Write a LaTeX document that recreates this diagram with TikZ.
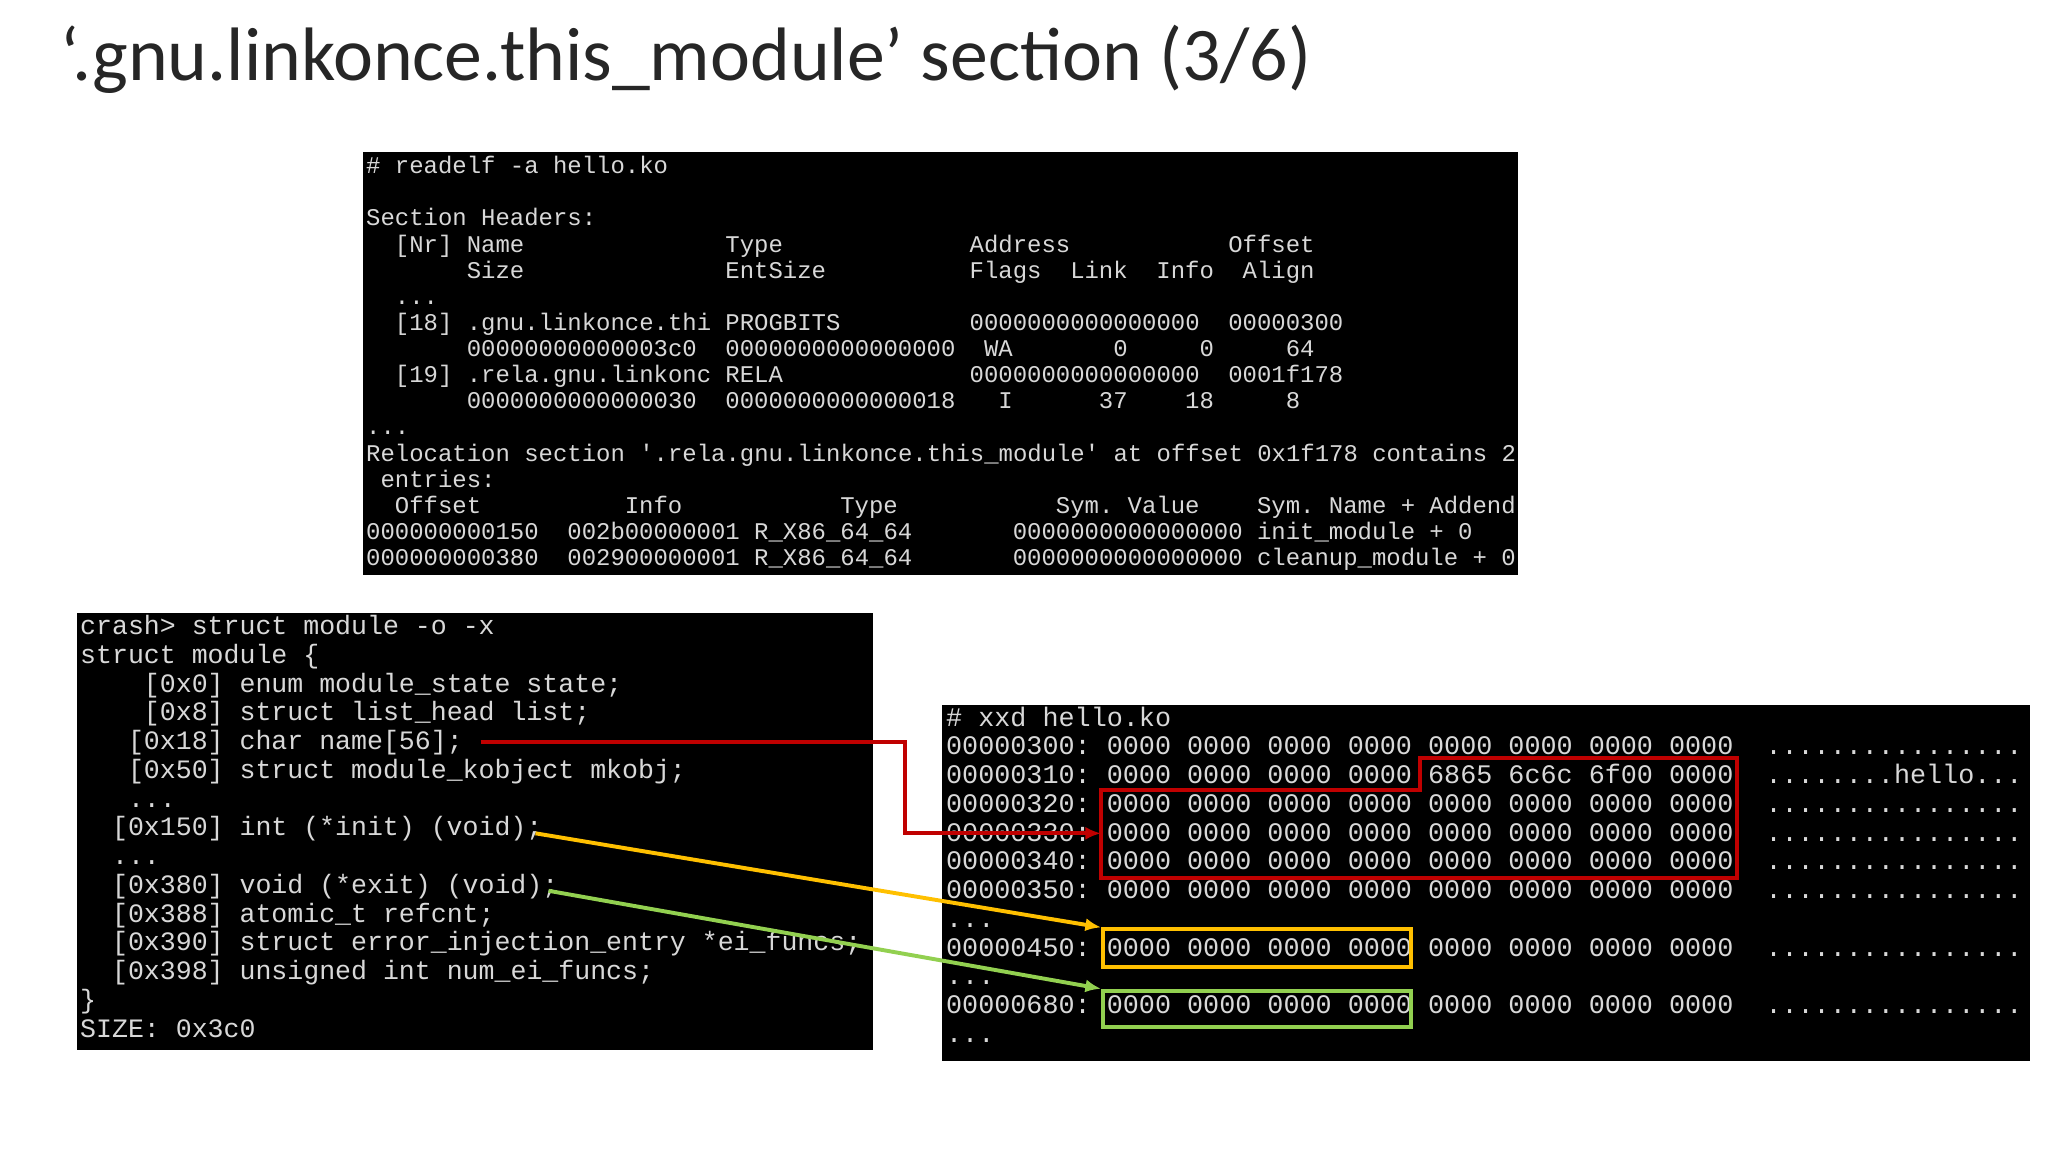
\documentclass[tikz,border=0pt]{standalone}
\usepackage{fontspec}
\usetikzlibrary{arrows.meta}
\setmainfont{Carlito}
\setmonofont{Liberation Mono}
\definecolor{term}{HTML}{D8D8D8}
\definecolor{rd}{HTML}{C00000}
\definecolor{yl}{HTML}{FFC000}
\definecolor{gr}{HTML}{92D050}
\newcommand\tline[5]{\node[tt,anchor=base west] at ({#1+#2*#4},#3) {#5};}
\newcommand\A[3]{\tline{280}{11}{#1+5}{#2}{#3}}
\newcommand\B[3]{\tline{61}{12.2}{#1+6}{#2}{#3}}
\newcommand\C[3]{\tline{724}{12.3}{#1+6}{#2}{#3}}
\begin{document}
\begin{tikzpicture}[x=0.5pt,y=-0.5pt,
  tt/.style={font=\ttfamily, text=term, inner sep=0pt},
  term/.style={fill=black},
  conn/.style={line width=1.5pt,-{Latex[length=6pt,width=5pt]}}]
\useasboundingbox (0,0) rectangle (1568,882);
\node[anchor=base west,inner sep=0pt,font=\fontsize{29}{34}\selectfont,text=black!85] (title) at (46,62) {‘.gnu.linkonce.this\_module’ section (3/6)};
% box 1
\fill[term] (278,116) rectangle (1162,440);
\begin{scope}[tt/.append style={font=\ttfamily\fontsize{9.17}{10}\selectfont}]
\A{128}{0}{\# readelf -a hello.ko}
\A{168}{0}{Section Headers:}
\A{188}{2}{[Nr]}\A{188}{7}{Name}\A{188}{25}{Type}\A{188}{42}{Address}\A{188}{60}{Offset}
\A{208}{7}{Size}\A{208}{25}{EntSize}\A{208}{42}{Flags}\A{208}{49}{Link}\A{208}{55}{Info}\A{208}{61}{Align}
\A{228}{2}{...}
\A{248}{2}{[18]}\A{248}{7}{.gnu.linkonce.thi}\A{248}{25}{PROGBITS}\A{248}{42}{0000000000000000}\A{248}{60}{00000300}
\A{268}{7}{00000000000003c0}\A{268}{25}{0000000000000000}\A{268}{43}{WA}\A{268}{52}{0}\A{268}{58}{0}\A{268}{64}{64}
\A{288}{2}{[19]}\A{288}{7}{.rela.gnu.linkonc}\A{288}{25}{RELA}\A{288}{42}{0000000000000000}\A{288}{60}{0001f178}
\A{308}{7}{0000000000000030}\A{308}{25}{0000000000000018}\A{308}{44}{I}\A{308}{51}{37}\A{308}{57}{18}\A{308}{64}{8}
\A{328}{0}{...}
\A{348}{0}{Relocation section '.rela.gnu.linkonce.this\_module' at offset 0x1f178 contains 2}
\A{368}{1}{entries:}
\A{388}{2}{Offset}\A{388}{18}{Info}\A{388}{33}{Type}\A{388}{48}{Sym. Value}\A{388}{62}{Sym. Name + Addend}
\A{408}{0}{000000000150}\A{408}{14}{002b00000001}\A{408}{27}{R\_X86\_64\_64}\A{408}{45}{0000000000000000}\A{408}{62}{init\_module + 0}
\A{428}{0}{000000000380}\A{428}{14}{002900000001}\A{428}{27}{R\_X86\_64\_64}\A{428}{45}{0000000000000000}\A{428}{62}{cleanup\_module + 0}
\end{scope}
% box 2
\fill[term] (59,469) rectangle (668,804);
\begin{scope}[tt/.append style={font=\ttfamily\fontsize{10.17}{11}\selectfont}]
\B{480}{0}{crash> struct module -o -x}
\B{502}{0}{struct module \{}
\B{524}{4}{[0x0] enum module\_state state;}
\B{546}{4}{[0x8] struct list\_head list;}
\B{568}{3}{[0x18] char name[56];}
\B{590}{3}{[0x50] struct module\_kobject mkobj;}
\B{612}{3}{...}
\B{634}{2}{[0x150] int}\B{634}{14}{(*init)}\B{634}{22}{(void);}
\B{656}{2}{...}
\B{678}{2}{[0x380] void (*exit)}\B{678}{23}{(void);}
\B{700}{2}{[0x388] atomic\_t refcnt;}
\B{722}{2}{[0x390] struct error\_injection\_entry *ei\_funcs;}
\B{744}{2}{[0x398] unsigned int num\_ei\_funcs;}
\B{766}{0}{\}}
\B{788}{0}{SIZE: 0x3c0}
\end{scope}
% box 3
\fill[term] (721,540) rectangle (1554,812);
\begin{scope}[tt/.append style={font=\ttfamily\fontsize{10.25}{11}\selectfont}]
\C{550}{0}{\# xxd hello.ko}
\C{572}{0}{00000300: 0000 0000 0000 0000 0000 0000 0000 0000}\C{572}{51}{................}
\C{594}{0}{00000310: 0000 0000 0000 0000 6865 6c6c 6f00 0000}\C{594}{51}{........hello...}
\C{616}{0}{00000320: 0000 0000 0000 0000 0000 0000 0000 0000}\C{616}{51}{................}
\C{638}{0}{00000330: 0000 0000 0000 0000 0000 0000 0000 0000}\C{638}{51}{................}
\C{660}{0}{00000340: 0000 0000 0000 0000 0000 0000 0000 0000}\C{660}{51}{................}
\C{682}{0}{00000350: 0000 0000 0000 0000 0000 0000 0000 0000}\C{682}{51}{................}
\C{704}{0}{...}
\C{726}{0}{00000450: 0000 0000 0000 0000 0000 0000 0000 0000}\C{726}{51}{................}
\C{748}{0}{...}
\C{770}{0}{00000680: 0000 0000 0000 0000 0000 0000 0000 0000}\C{770}{51}{................}
\C{792}{0}{...}
\end{scope}
% highlights
\draw[rd,line width=1.5pt] (1087,580) -- (1330,580) -- (1330,672) -- (843,672) -- (843,605) -- (1087,605) -- cycle;
\node[draw=yl,line width=1.5pt,minimum width=118pt,minimum height=14.5pt,inner sep=0pt,anchor=north west] (ybox) at (843,710) {};
\node[draw=gr,line width=1.5pt,minimum width=118pt,minimum height=14pt,inner sep=0pt,anchor=north west] (gbox) at (843,757) {};
\coordinate (rdend) at (843,638);
\coordinate (rdst) at (368,568);
\coordinate (ylst) at (410,638);
\coordinate (grst) at (420,682);
\draw[conn,rd] (rdst) -- (693,568) -- (693,638) -- (rdend);
\draw[conn,yl] (ylst) -- (ybox.north west);
\draw[conn,gr] (grst) -- (gbox.north west);
\end{tikzpicture}
\end{document}
